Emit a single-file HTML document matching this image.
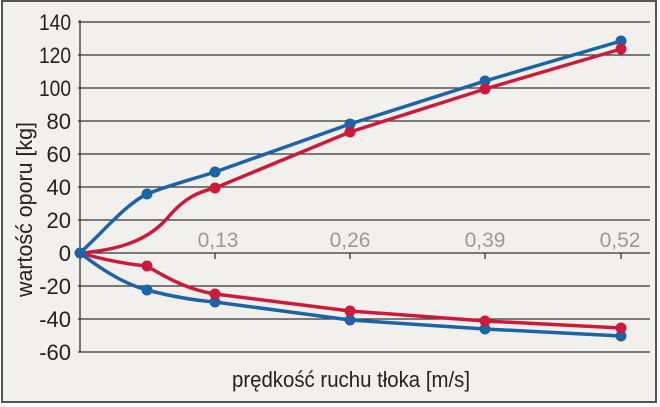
<!DOCTYPE html>
<html><head><meta charset="utf-8"><style>
body{margin:0;background:#fff}
svg{display:block}
text{font-family:"Liberation Sans",sans-serif}
</style></head><body>
<svg width="660" height="407" viewBox="0 0 660 407">
<rect x="0" y="0" width="660" height="407" fill="#fff"/>
<rect x="2" y="1" width="654" height="401" fill="#f1f0ec" stroke="#555" stroke-width="2"/>
<g stroke="#333" stroke-width="1.3">
<line x1="78" y1="22" x2="650" y2="22"/>
<line x1="78" y1="55" x2="650" y2="55"/>
<line x1="78" y1="88" x2="650" y2="88"/>
<line x1="78" y1="121" x2="650" y2="121"/>
<line x1="78" y1="154" x2="650" y2="154"/>
<line x1="78" y1="187" x2="650" y2="187"/>
<line x1="78" y1="220" x2="650" y2="220"/>
<line x1="78" y1="253" x2="650" y2="253"/>
<line x1="78" y1="286" x2="650" y2="286"/>
<line x1="78" y1="319" x2="650" y2="319"/>
<line x1="78" y1="352" x2="650" y2="352"/>
<line x1="80" y1="20" x2="80" y2="352"/>
<line x1="215" y1="253" x2="215" y2="259"/>
<line x1="350" y1="253" x2="350" y2="259"/>
<line x1="485" y1="253" x2="485" y2="259"/>
<line x1="621" y1="253" x2="621" y2="259"/>
</g>
<g font-size="22" fill="#222" text-anchor="end">
<text x="71" y="30" textLength="32" lengthAdjust="spacingAndGlyphs">140</text>
<text x="71" y="63" textLength="32" lengthAdjust="spacingAndGlyphs">120</text>
<text x="71" y="96" textLength="32" lengthAdjust="spacingAndGlyphs">100</text>
<text x="71" y="129">80</text>
<text x="71" y="162">60</text>
<text x="71" y="195">40</text>
<text x="71" y="228">20</text>
<text x="71" y="261">0</text>
<text x="71" y="294">-20</text>
<text x="71" y="327">-40</text>
<text x="71" y="360">-60</text>
</g>
<g font-size="21" fill="#999" text-anchor="middle">
<text x="218" y="247">0,13</text>
<text x="350" y="247">0,26</text>
<text x="485" y="247">0,39</text>
<text x="620" y="247">0,52</text>
</g>
<text x="232" y="387" font-size="22" fill="#222" textLength="238" lengthAdjust="spacingAndGlyphs">prędkość ruchu tłoka [m/s]</text>
<text font-size="22" fill="#222" textLength="175" lengthAdjust="spacingAndGlyphs" transform="translate(32 297) rotate(-90)">wartość oporu [kg]</text>
<g fill="none" stroke-width="3.5" stroke-linejoin="round" stroke-linecap="round">
<path d="M80 253 C105 230,125 205,147 194 C170 185,190 180,215 172 L350 124 L485 81 L621 41" stroke="#1d63a8"/>
<path d="M80 253 C120 250,150 240,170 215 C185 198,198 192,215 188 L350 132 L485 89 L621 49" stroke="#cc1b3a"/>
<path d="M80 253 C105 260,125 264,147 266 C170 280,190 290,215 294 L350 311 L485 321 L621 328" stroke="#cc1b3a"/>
<path d="M80 253 C105 272,125 284,147 290 C170 296,190 300,215 302 L350 320 L485 329 L621 336" stroke="#1d63a8"/>
</g>
<g fill="#1d63a8">
<circle cx="80" cy="253" r="5.5"/><circle cx="147" cy="194" r="5.5"/><circle cx="215" cy="172" r="5.5"/><circle cx="350" cy="124" r="5.5"/><circle cx="485" cy="81" r="5.5"/><circle cx="621" cy="41" r="5.5"/>
<circle cx="147" cy="290" r="5.5"/><circle cx="215" cy="302" r="5.5"/><circle cx="350" cy="320" r="5.5"/><circle cx="485" cy="329" r="5.5"/><circle cx="621" cy="336" r="5.5"/>
</g>
<g fill="#cc1b3a">
<circle cx="215" cy="188" r="5.5"/><circle cx="350" cy="132" r="5.5"/><circle cx="485" cy="89" r="5.5"/><circle cx="621" cy="49" r="5.5"/>
<circle cx="147" cy="266" r="5.5"/><circle cx="215" cy="294" r="5.5"/><circle cx="350" cy="311" r="5.5"/><circle cx="485" cy="321" r="5.5"/><circle cx="621" cy="328" r="5.5"/>
</g>
</svg>
</body></html>
